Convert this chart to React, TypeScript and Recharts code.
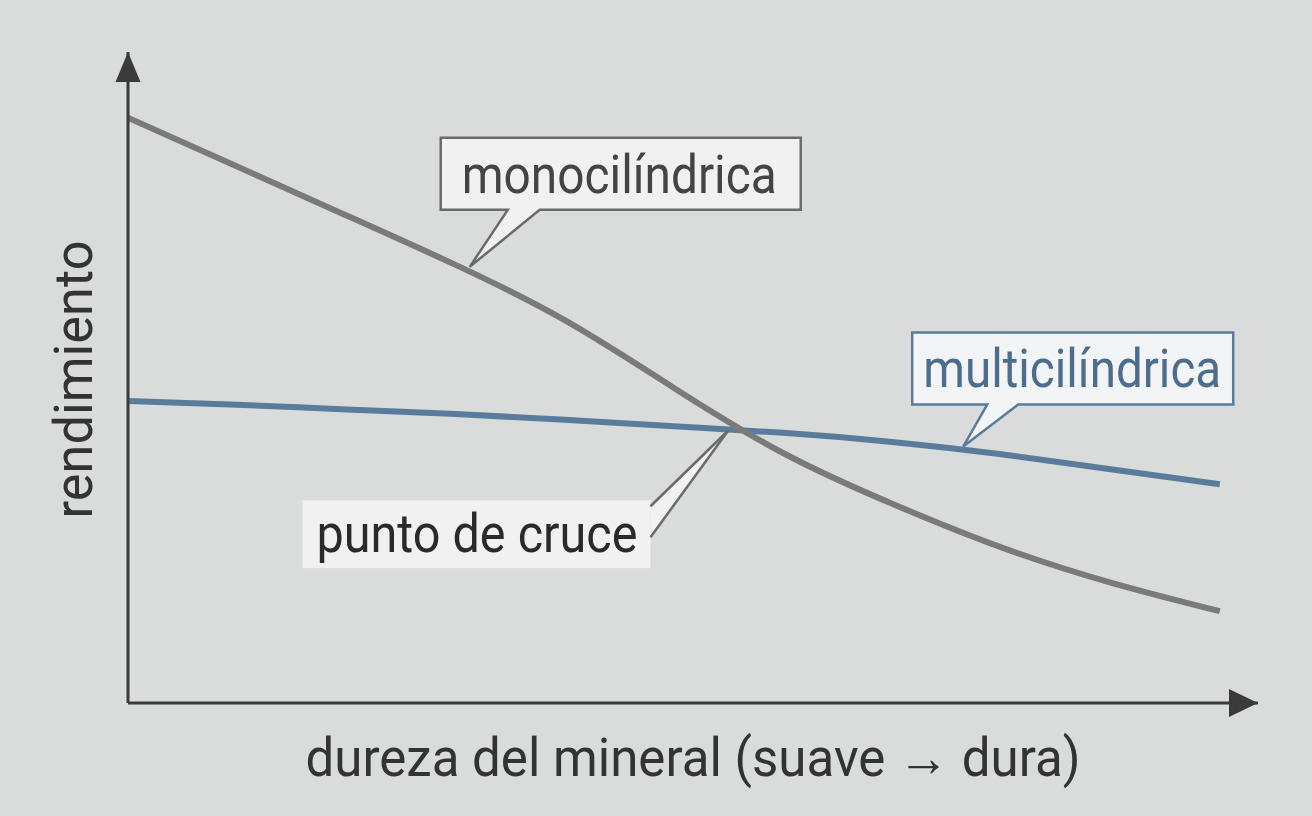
import React from 'react';
import { LineChart, Line, XAxis, YAxis, ReferenceDot, Label } from 'recharts';

// hardness steps (soft -> hard), 0..10
const hardness = [0, 1, 2, 3, 4, 5, 6, 7, 8, 9, 10];
// relative yield
const mono = [89.9, 82.4, 74.9, 67.3, 58.8, 48.4, 38.4, 30.6, 23.9, 18.5, 14.1];
const multi = [46.4, 45.8, 45.1, 44.4, 43.5, 42.5, 41.5, 40.1, 38.2, 35.9, 33.6];

// callout anchors in data space
const monoTip = { x: 3.13, y: 67.0 };
const multiTip = { x: 7.65, y: 39.4 };
const crossTip = { x: 5.5, y: 41.9 };

const data = hardness.map((h, i) => ({ h, mono: mono[i], multi: multi[i] }));

const BG = '#dadbdb';
const AXIS = '#3a3a3a';
const GRAY = '#7a7a7a';
const BLUE = '#5a7c9c';
const FONT = 'Roboto, "Noto Sans", sans-serif';
const FS = 54;

const upArrow = ({ cx, cy }: any) => (
  <path d={`M${cx},${cy} L${cx + 12.5},${cy + 30} L${cx - 12.5},${cy + 30} Z`} fill={AXIS} />
);
const rightArrow = ({ cx, cy }: any) => (
  <path d={`M${cx},${cy} L${cx - 29},${cy - 14} L${cx - 29},${cy + 14} Z`} fill={AXIS} />
);

const monoCallout = ({ cx, cy }: any) => {
  const l = cx - 29, t = cy - 129, r = cx + 331, b = cy - 57;
  return (
    <g>
      <path
        d={`M${l},${t} H${r} V${b} H${cx + 70} L${cx},${cy} L${cx + 38},${b} H${l} Z`}
        fill="#f1f1f1" stroke="#6b6b6b" strokeWidth={2.5} strokeLinejoin="miter"
      />
      <text x={cx - 8} y={cy - 74} fontFamily={FONT} fontSize={FS} fill="#444"
        textLength={315} lengthAdjust="spacingAndGlyphs">monocilíndrica</text>
    </g>
  );
};

const multiCallout = ({ cx, cy }: any) => {
  const l = cx - 51, t = cy - 114, r = cx + 270, b = cy - 42;
  return (
    <g>
      <path
        d={`M${l},${t} H${r} V${b} H${cx + 55} L${cx},${cy} L${cx + 24},${b} H${l} Z`}
        fill="#f3f4f5" stroke={BLUE} strokeWidth={2.5}
      />
      <text x={cx - 40} y={cy - 60} fontFamily={FONT} fontSize={FS} fill="#4d6d8e"
        textLength={298} lengthAdjust="spacingAndGlyphs">multicilíndrica</text>
    </g>
  );
};

const crossCallout = ({ cx, cy }: any) => {
  const l = cx - 426, t = cy + 70, r = cx - 78, b = cy + 138;
  return (
    <g>
      <rect x={l} y={t} width={r - l} height={b - t} fill="#f1f1f1" />
      <path d={`M${r},${cy + 76} L${cx},${cy} L${r},${cy + 107} Z`} fill="#f1f1f1" />
      <line x1={r} y1={cy + 76} x2={cx} y2={cy} stroke="#6b6b6b" strokeWidth={2.5} />
      <line x1={r} y1={cy + 107} x2={cx} y2={cy} stroke="#6b6b6b" strokeWidth={2.5} />
      <text x={cx - 412} y={cy + 122} fontFamily={FONT} fontSize={FS} fill="#2a2a2a"
        textLength={321} lengthAdjust="spacingAndGlyphs">punto de cruce</text>
    </g>
  );
};

const xTitle = ({ viewBox }: any) => (
  <text x={viewBox.x + viewBox.width / 2} y={viewBox.y + 73} textAnchor="middle"
    fontFamily={FONT} fontSize={FS} fill="#333" textLength={775} lengthAdjust="spacingAndGlyphs">
    dureza del mineral (suave → dura)
  </text>
);

const yTitle = ({ viewBox }: any) => {
  const x = 92;
  const y = viewBox.y + viewBox.height / 2 + 2;
  return (
    <text x={x} y={y} textAnchor="middle" transform={`rotate(-90, ${x}, ${y})`}
      fontFamily={FONT} fontSize={FS} fill="#333" textLength={278} lengthAdjust="spacingAndGlyphs">
      rendimiento
    </text>
  );
};

export default function App() {
  return (
    <div style={{ position: 'absolute', left: 0, top: 0, width: 1312, height: 816, background: BG }}>
      <LineChart width={1312} height={816} data={data} margin={{ top: 52, right: 54, bottom: 0, left: 0 }}>
        <XAxis dataKey="h" type="number" domain={[0, 10.35]} height={113} tick={false} tickLine={false}
          axisLine={{ stroke: AXIS, strokeWidth: 3 }} allowDataOverflow>
          <Label content={xTitle} />
        </XAxis>
        <YAxis type="number" domain={[0, 100]} width={128} tick={false} tickLine={false}
          axisLine={{ stroke: AXIS, strokeWidth: 3 }} allowDataOverflow>
          <Label content={yTitle} />
        </YAxis>
        <Line type="natural" dataKey="multi" stroke={BLUE} strokeWidth={6} dot={false} isAnimationActive={false} />
        <Line type="natural" dataKey="mono" stroke={GRAY} strokeWidth={6} dot={false} isAnimationActive={false} />
        <ReferenceDot x={0} y={100} r={0} shape={upArrow} ifOverflow="visible" />
        <ReferenceDot x={10.35} y={0} r={0} shape={rightArrow} ifOverflow="visible" />
        <ReferenceDot x={monoTip.x} y={monoTip.y} r={0} shape={monoCallout} ifOverflow="visible" />
        <ReferenceDot x={multiTip.x} y={multiTip.y} r={0} shape={multiCallout} ifOverflow="visible" />
        <ReferenceDot x={crossTip.x} y={crossTip.y} r={0} shape={crossCallout} ifOverflow="visible" />
      </LineChart>
    </div>
  );
}
